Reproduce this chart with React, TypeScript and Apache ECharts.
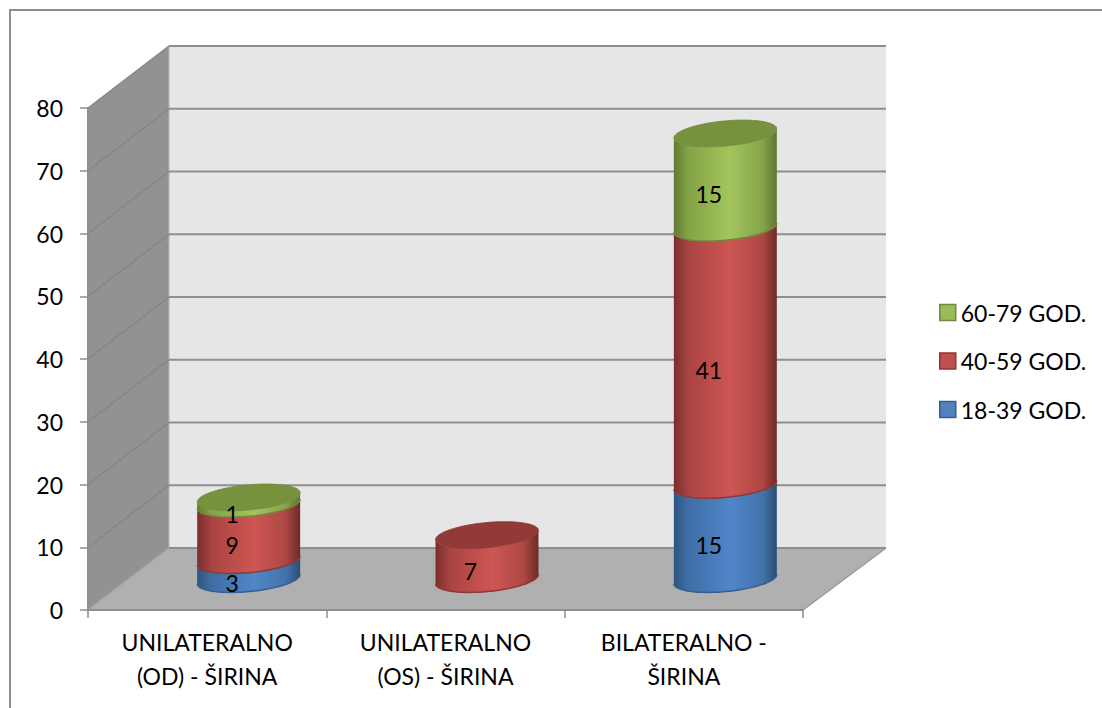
import React, { useEffect, useRef } from "react";
import * as echarts from "echarts";

const categories = ["UNILATERALNO\n(OD) - ŠIRINA", "UNILATERALNO\n(OS) - ŠIRINA", "BILATERALNO -\nŠIRINA"];
const young = [3, 0, 15];
const middle = [9, 7, 41];
const older = [1, 0, 15];
const yMax = 80;
const yStep = 10;
const yTicks = [0, 10, 20, 30, 40, 50, 60, 70, 80];
const names = ["18-39 GOD.", "40-59 GOD.", "60-79 GOD."];

const FONT = "Lato";
const FONT_SIZE = 23;
const DEPTH_X = 81;
const DEPTH_Y = 62;
const SKEW = 4.6;
const MINOR = 12.6;

const palette = [
  { flat: "#4f81bd", line: "#385d8a", cap: "#3a6291", stops: ["#2f547f", "#3f6ea6", "#5085c8", "#4274ab", "#2c4c72"] },
  { flat: "#c0504d", line: "#8c3836", cap: "#923a38", stops: ["#7a2e2c", "#a84442", "#ce5653", "#ad4744", "#6c2a28"] },
  { flat: "#9bbb59", line: "#71893f", cap: "#76923c", stops: ["#5f7a33", "#84a347", "#a4c55d", "#86a44a", "#5d7631"] },
];

function sideFill(stops: string[]) {
  return new echarts.graphic.LinearGradient(0, 0, 1, 0, [
    { offset: 0, color: stops[0] },
    { offset: 0.14, color: stops[1] },
    { offset: 0.55, color: stops[2] },
    { offset: 0.86, color: stops[3] },
    { offset: 1, color: stops[4] },
  ]);
}

function arc(cx: number, cy: number, a: number, front: boolean) {
  const pts: number[][] = [];
  const n = 40;
  for (let i = 0; i <= n; i++) {
    const t = front ? Math.PI - (Math.PI * i) / n : (Math.PI * i) / n;
    pts.push([cx + a * Math.cos(t), cy + MINOR * Math.sin(t) * 1 - SKEW * Math.cos(t)]);
  }
  return pts;
}

function ellipsePts(cx: number, cy: number, a: number) {
  const pts: number[][] = [];
  for (let i = 0; i < 72; i++) {
    const t = (2 * Math.PI * i) / 72;
    pts.push([cx + a * Math.cos(t), cy + MINOR * Math.sin(t) - SKEW * Math.cos(t)]);
  }
  return pts;
}

const stackRows = (level: number) =>
  categories.map((_, i) => {
    const rows = [young[i], middle[i], older[i]];
    const start = rows.slice(0, level).reduce((s, v) => s + v, 0);
    const total = rows.reduce((s, v) => s + v, 0);
    return [i, start, start + rows[level], total];
  });

const cylinder = (level: number) => (params: any, api: any) => {
  const cat = api.value(0);
  const from = api.value(1);
  const to = api.value(2);
  const total = api.value(3);
  if (to <= from) return { type: "group", children: [] };
  const p0 = api.coord([cat, from]);
  const p1 = api.coord([cat, to]);
  const a = api.size([1, 0])[0] * 0.216;
  const cx = p0[0] + DEPTH_X / 2 + 1;
  const y0 = p0[1] - DEPTH_Y / 2;
  const y1 = p1[1] - DEPTH_Y / 2;
  const c = palette[level];
  const topArc = arc(cx, y1, a, true);
  const botArc = arc(cx, y0, a, true).reverse();
  const children: any[] = [
    { type: "polygon", shape: { points: [...topArc, ...botArc] }, style: { fill: sideFill(c.stops) } },
    { type: "polyline", shape: { points: botArc }, style: { fill: "none", stroke: c.line, lineWidth: 1.5 } },
  ];
  if (to === total) {
    children.push({
      type: "polygon",
      shape: { points: ellipsePts(cx, y1, a) },
      style: { fill: c.cap, stroke: c.line, lineWidth: 0.8 },
    });
  }
  return { type: "group", children };
};

const labelRows = categories.flatMap((_, i) => {
  let base = 0;
  return [young[i], middle[i], older[i]].flatMap((v) => {
    const row = v > 0 ? [[i, base + v / 2, v]] : [];
    base += v;
    return row;
  });
});

function renderWalls(params: any, api: any) {
  const { x, y, width, height } = params.coordSys;
  const bottom = y + height;
  const right = x + width;
  const backRight = right + DEPTH_X + 2;
  const unit = height / yMax;
  const kids: any[] = [
    {
      type: "polygon",
      shape: { points: [[x, y], [x + DEPTH_X, y - DEPTH_Y], [x + DEPTH_X, bottom - DEPTH_Y], [x, bottom]] },
      style: { fill: "#929292" },
    },
    {
      type: "polygon",
      shape: { points: [[x + DEPTH_X, y - DEPTH_Y], [backRight, y - DEPTH_Y], [backRight, bottom - DEPTH_Y], [x + DEPTH_X, bottom - DEPTH_Y]] },
      style: { fill: "#e6e6e6" },
    },
    {
      type: "polygon",
      shape: { points: [[x, bottom], [right, bottom], [backRight, bottom - DEPTH_Y], [x + DEPTH_X, bottom - DEPTH_Y]] },
      style: { fill: "#b0b0b0" },
    },
    {
      type: "line",
      shape: { x1: x + DEPTH_X, y1: y - DEPTH_Y, x2: x + DEPTH_X, y2: bottom - DEPTH_Y },
      style: { stroke: "#b4b4b4", lineWidth: 1 },
    },
    {
      type: "line",
      shape: { x1: right, y1: bottom, x2: backRight, y2: bottom - DEPTH_Y },
      style: { stroke: "#9a9a9a", lineWidth: 1.5 },
    },
  ];
  yTicks.forEach((t) => {
    const ty = bottom - t * unit;
    kids.push({
      type: "line",
      shape: { x1: x, y1: ty, x2: x + DEPTH_X, y2: ty - DEPTH_Y },
      style: { stroke: t === 0 ? "#a6a6a6" : "#868686", lineWidth: 1.5 },
    });
    kids.push({
      type: "line",
      shape: { x1: x + DEPTH_X, y1: ty - DEPTH_Y, x2: backRight, y2: ty - DEPTH_Y },
      style: { stroke: "#8e8e8e", lineWidth: 2 },
    });
  });
  return { type: "group", children: kids };
}

function renderLabel(params: any, api: any) {
  const p = api.coord([api.value(0), api.value(1)]);
  return {
    type: "text",
    x: p[0] + 25,
    y: p[1] - 17.5,
    style: {
      text: String(api.value(2)),
      fontFamily: FONT,
      fontSize: FONT_SIZE,
      fill: "#000",
      align: "center",
      verticalAlign: "middle",
    },
  };
}

export default function App() {
  const ref = useRef<HTMLDivElement>(null);
  useEffect(() => {
    document.body.style.margin = "0";
    const chart = echarts.init(ref.current!, undefined, { renderer: "svg" });
    chart.setOption({
      animation: false,
      backgroundColor: "#ffffff",
      textStyle: { fontFamily: FONT },
      grid: { left: 88, top: 108, width: 715, height: 502, containLabel: false },
      xAxis: {
        type: "category",
        data: categories,
        z: 8,
        axisLine: { lineStyle: { color: "#8e8e8e", width: 2 } },
        axisTick: { show: true, alignWithLabel: false, length: 8, lineStyle: { color: "#8e8e8e", width: 1.5 } },
        axisLabel: { fontFamily: FONT, fontSize: FONT_SIZE, color: "#000", lineHeight: 34, margin: 15, interval: 0 },
      },
      yAxis: {
        type: "value",
        min: 0,
        max: yMax,
        interval: yStep,
        z: 8,
        axisLine: { show: true, lineStyle: { color: "#8e8e8e", width: 2 } },
        axisTick: { show: true, length: 8, lineStyle: { color: "#8e8e8e", width: 1.5 } },
        axisLabel: { fontFamily: FONT, fontSize: FONT_SIZE, color: "#000", margin: 25 },
        splitLine: { show: false },
      },
      legend: {
        orient: "vertical",
        left: 934,
        top: 296,
        itemWidth: 16,
        itemHeight: 16,
        itemGap: 25.5,
        selectedMode: false,
        textStyle: { fontFamily: FONT, fontSize: FONT_SIZE, color: "#000", padding: [0, 0, 0, 0] },
        data: [2, 1, 0].map((i) => ({
          name: names[i],
          icon: "rect",
          itemStyle: { color: palette[i].flat, borderColor: palette[i].line, borderWidth: 1.5 },
        })),
      },
      graphic: [
        {
          type: "polyline",
          shape: { points: [[10, 708], [10, 10], [1102, 10]] },
          style: { fill: "none", stroke: "#8e8e8e", lineWidth: 2 },
        },
      ],
      series: [
        {
          type: "custom",
          name: "walls",
          z: 1,
          silent: true,
          clip: false,
          data: [[0, 0]],
          encode: { x: 0, y: 1 },
          renderItem: renderWalls,
        },
        ...[0, 1, 2].map((level) => ({
          type: "custom",
          name: names[level],
          z: 3 + level,
          silent: true,
          clip: false,
          itemStyle: { color: palette[level].flat },
          data: stackRows(level),
          encode: { x: 0, y: 2 },
          renderItem: cylinder(level),
        })),
        {
          type: "custom",
          name: "labels",
          z: 7,
          silent: true,
          clip: false,
          data: labelRows,
          encode: { x: 0, y: 1 },
          renderItem: renderLabel,
        },
      ],
    });
    return () => chart.dispose();
  }, []);
  return <div ref={ref} style={{ width: 1102, height: 708 }} />;
}
